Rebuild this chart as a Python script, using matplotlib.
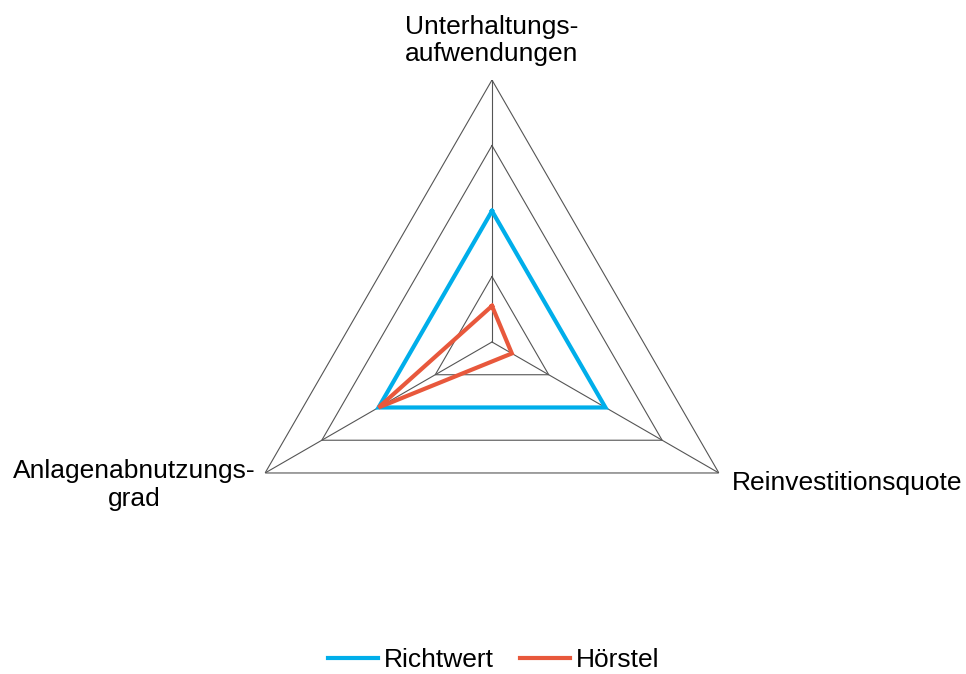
import numpy as np
import matplotlib.pyplot as plt

plt.rcParams['font.family'] = ['Liberation Sans', 'DejaVu Sans']

categories = ['Unterhaltungs-\naufwendungen', 'Reinvestitionsquote', 'Anlagenabnutzungs-\ngrad']
richtwert = [2.0, 2.0, 2.0]
hoerstel = [0.55, 0.35, 2.0]
grid_levels = [1, 2, 3, 4]

n = len(categories)
theta = np.linspace(0, 2 * np.pi, n, endpoint=False)
theta_closed = np.append(theta, theta[0])

fig = plt.figure(figsize=(9.66, 6.74), dpi=100)
ax = fig.add_axes([0.2381, 0.1039, 0.5424, 0.7774], projection='polar')
ax.set_theta_offset(np.pi / 2)
ax.set_theta_direction(-1)
ax.set_ylim(0, 4)
ax.grid(False)
ax.set_xticks([])
ax.set_yticks([])
ax.spines['polar'].set_visible(False)
ax.patch.set_visible(False)

grid_color = '#555555'
for lvl in grid_levels:
    ax.plot(theta_closed, [lvl] * (n + 1), color=grid_color, lw=0.8, zorder=1)
for t in theta:
    ax.plot([t, t], [0, grid_levels[-1]], color=grid_color, lw=0.8, zorder=1)

ax.plot(theta_closed, richtwert + richtwert[:1], color='#00AEEA', lw=3.0,
        label='Richtwert', zorder=3, solid_joinstyle='miter')
ax.plot(theta_closed, hoerstel + hoerstel[:1], color='#E8583C', lw=3.0,
        label='Hörstel', zorder=4, solid_joinstyle='miter')

fs = 19
ax.annotate(categories[0], xy=(theta[0], 4), xytext=(0, 14), textcoords='offset pixels',
            ha='center', va='bottom', fontsize=fs, linespacing=1.15, annotation_clip=False)
ax.annotate(categories[1], xy=(theta[1], 4), xytext=(13, -10), textcoords='offset pixels',
            ha='left', va='center', fontsize=fs, annotation_clip=False)
ax.annotate(categories[2], xy=(theta[2], 4), xytext=(-10, -12), textcoords='offset pixels',
            ha='right', va='center', multialignment='center', fontsize=fs,
            linespacing=1.25, annotation_clip=False)

fig.legend(loc='center', bbox_to_anchor=(0.511, 0.021), ncol=2, frameon=False,
           fontsize=fs, handlelength=1.9, handletextpad=0.2, columnspacing=1.0)

fig.savefig('out.png', dpi=100, facecolor='white')
